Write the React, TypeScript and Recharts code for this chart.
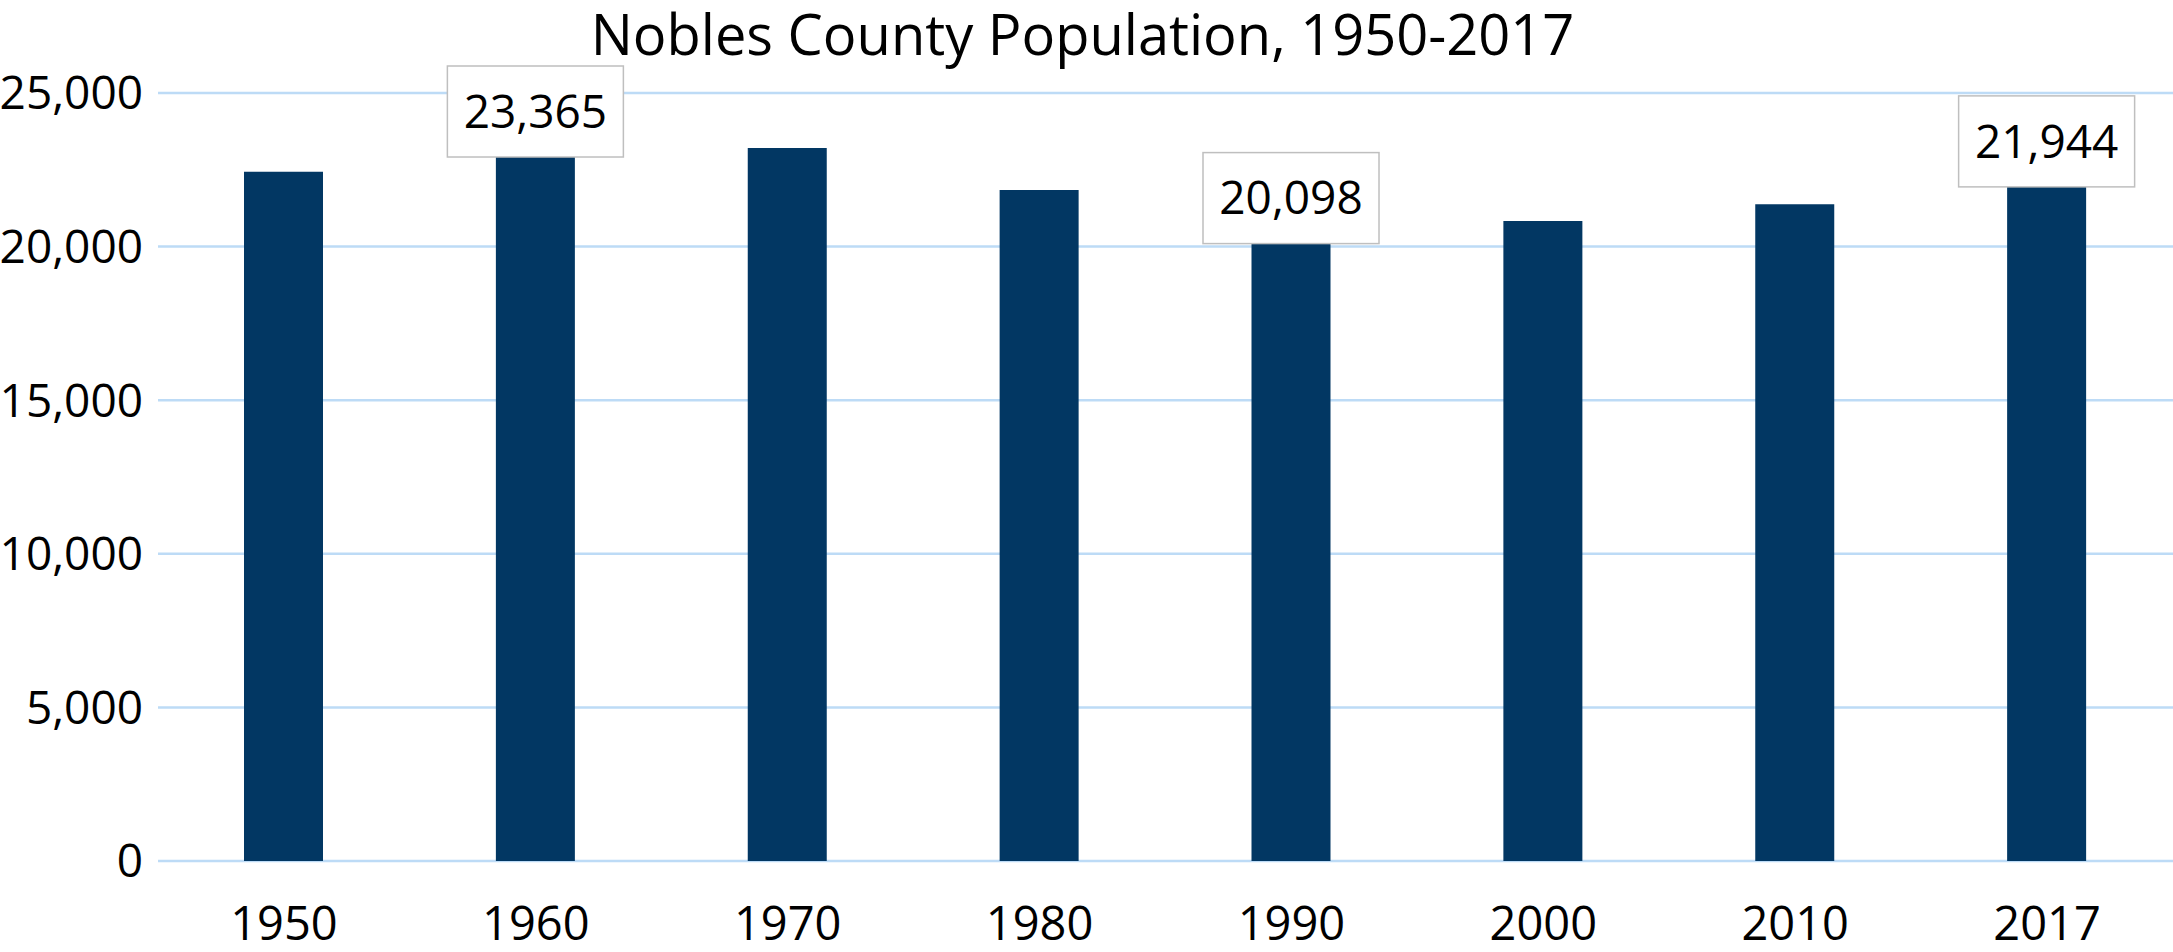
import { BarChart, Bar, XAxis, YAxis, CartesianGrid, LabelList } from "recharts";

// census years and population values
const years = ["1950", "1960", "1970", "1980", "1990", "2000", "2010", "2017"];
const population = [22435, 23365, 23208, 21840, 20098, 20832, 21378, 21944];
const labeledYears = ["1960", "1990", "2017"];
const yTicks = [0, 5000, 10000, 15000, 20000, 25000];

const chartData = years.map((y, i) => ({ year: y, pop: population[i] }));

const FONT = "'Open Sans', sans-serif";
const fmt = (v: number) => v.toLocaleString("en-US");

// boxed value label, only for the highlighted years
const BoxLabel = (props: any) => {
    const { x, y, width, value, index } = props;
    if (!labeledYears.includes(chartData[index]?.year)) return null;
    const bw = 176;
    const bh = 91;
    const cx = x + width / 2;
    let top = y - bh;
    if (top < 66) top = 66;
    return (
        <g>
            <rect x={cx - bw / 2} y={top} width={bw} height={bh} fill="#fff" stroke="#bfbfbf" strokeWidth={1.5} />
            <text x={cx} y={top + bh / 2 + 16.4} textAnchor="middle" fontSize={46} fontFamily={FONT} fill="#000">
                {fmt(value)}
            </text>
        </g>
    );
};

export default function App() {
    return (
        <div style={{ position: "absolute", left: 0, top: 0, width: 2173, height: 952, background: "#fff" }}>
            <div
                style={{
                    position: "absolute",
                    left: 0,
                    top: 5,
                    width: 2165,
                    textAlign: "center",
                    fontFamily: FONT,
                    fontSize: 56,
                    lineHeight: "57px",
                    color: "#000",
                }}
            >
                Nobles County Population, 1950-2017
            </div>
            <BarChart width={2173} height={952} data={chartData} margin={{ top: 93, right: 0, left: 0, bottom: 0 }}>
                <CartesianGrid vertical={false} stroke="#bddbf6" strokeWidth={2.5} />
                <XAxis
                    dataKey="year"
                    height={91}
                    axisLine={false}
                    tickLine={false}
                    tickSize={0}
                    tickMargin={46}
                    interval={0}
                    tick={{ fill: "#000", fontSize: 47, fontFamily: FONT }}
                />
                <YAxis
                    width={158}
                    domain={[0, 25000]}
                    ticks={yTicks}
                    axisLine={false}
                    tickLine={false}
                    tickSize={0}
                    tickMargin={15}
                    tickFormatter={fmt}
                    tick={{ fill: "#000", fontSize: 46, fontFamily: FONT }}
                />
                <Bar dataKey="pop" fill="#023763" barSize={79} isAnimationActive={false}>
                    <LabelList dataKey="pop" content={BoxLabel} />
                </Bar>
            </BarChart>
        </div>
    );
}
